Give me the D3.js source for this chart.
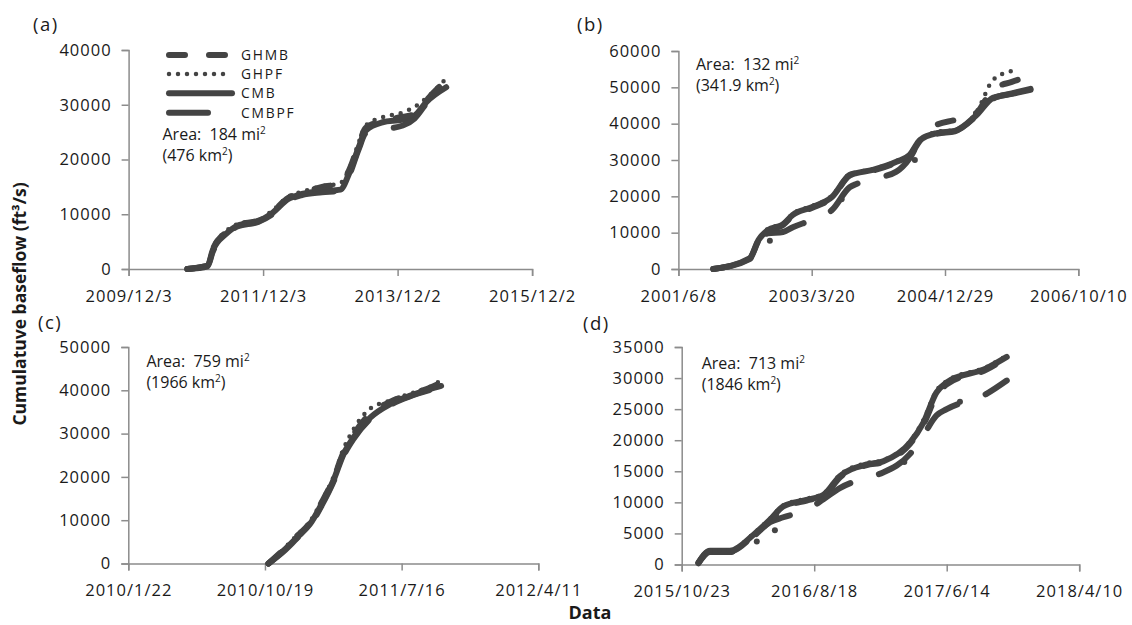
<!DOCTYPE html>
<html>
<head>
<meta charset="utf-8">
<script src="https://cdn.jsdelivr.net/npm/d3@7"></script>
<style>
  body { margin: 0; background: #fff; }
</style>
</head>
<body>
<div id="chart"></div>
<script>
// ---------------- data ----------------
var seriesNames = ["CMB", "CMBPF", "GHMB", "GHPF"];
var legendNames = ["GHMB", "GHPF", "CMB", "CMBPF"];

// (a)
var aTicks = ["2009/12/3", "2011/12/3", "2013/12/2", "2015/12/2"];
var aYTicks = [0, 10000, 20000, 30000, 40000];
var aDates = ["2010-10-18", "2011-02-05", "2011-03-04", "2011-05-16", "2011-07-19", "2011-11-06", "2012-01-17",
  "2012-04-18", "2012-06-30", "2012-10-18", "2013-01-26", "2013-03-13", "2013-05-06", "2013-06-12",
  "2013-09-11", "2013-12-30", "2014-03-04", "2014-05-07", "2014-08-23"];
var aCMB   = [0, 600, 3350, 6400, 7950, 8700, 10100, 12800, 13700, 14200, 14500, 17400, 22300, 25300, 26800, 27300, 28000, 30500, 33200];
var aCMBPF = [0, 500, 3100, 6200, 7800, 8600, 9900, 12600, 13500, 14000, 14300, 17000, 22000, 24800, 25500, 26200, 27500, 30200, 33000];
var aGHMB  = [0, 700, 3500, 6700, 8100, 8800, 10300, 13000, 13900, 15000, 15600, 18000, 22800, 25800, 27000, 27800, 28300, 30800, 34500];
var aGHPF  = [0, 750, 3700, 6900, 8200, 8900, 10500, 13200, 14100, 15100, 15700, 18200, 23200, 26200, 27700, 28600, 29600, 31200, 34800];

// (b)
var bTicks = ["2001/6/8", "2003/3/20", "2004/12/29", "2006/10/10"];
var bYTicks = [0, 10000, 20000, 30000, 40000, 50000, 60000];
var bDates = ["2001-11-25", "2002-05-21", "2002-07-04", "2002-08-18", "2002-10-31", "2002-12-18", "2003-03-20",
  "2003-06-28", "2003-09-21", "2003-10-24", "2004-01-12", "2004-05-06", "2004-07-10", "2004-08-29",
  "2004-11-19", "2005-02-15", "2005-06-01", "2005-08-20", "2005-11-20", "2006-02-19"];
var bCMB   = [0, 2900, 8000, 10700, 12300, 14900, 17000, 19900, 25900, 26400, 27300, 29500, 31400, 35500, 37400, 38000, 42400, 47100, 48200, 49300];
var bCMBPF = [0, 2700, 7500, 9800, 10200, 11500, 13500, 16300, 22500, 23400, 24800, 26800, 30500, 35200, 37200, 37900, 42200, 46900, 48300, 49600];
var bGHMB  = [0, 2800, 7800, 10500, 12100, 14700, 16800, 19700, 25700, 26200, 27100, 29300, 31200, 35300, 39700, 41000, 43000, 49500, 51500, 53100];
var bGHPF  = [0, 3000, 8200, 11000, 12500, 15200, 17300, 20200, 26100, 26600, 27500, 29700, 31600, 35700, 37700, 38300, 43200, 52000, 54500, null];
var bDots  = [["2002-08-28", 7800], ["2003-08-13", 19200], ["2004-08-04", 30000]];

// (c)
var cTicks = ["2010/1/22", "2010/10/19", "2011/7/16", "2012/4/11"];
var cYTicks = [0, 10000, 20000, 30000, 40000, 50000];
var cDates = ["2010-10-26", "2010-11-24", "2010-12-21", "2011-01-16", "2011-02-08", "2011-03-03", "2011-03-23",
  "2011-04-12", "2011-05-15", "2011-06-23", "2011-08-01", "2011-09-10", "2011-10-02"];
var cCMB   = [0, 2900, 6000, 9100, 13700, 19100, 25200, 29100, 33700, 36800, 38700, 40300, 41000];
var cCMBPF = [0, 2700, 5800, 8800, 13400, 18800, 24800, 28800, 33400, 36600, 38600, 40100, 40800];
var cGHMB  = [0, 3100, 6300, 9400, 14100, 19500, 25600, 29800, 34600, 37300, 39000, 40600, 41800];
var cGHPF  = [0, 3200, 6500, 9700, 14400, 19900, 26400, 31000, 35800, 37600, 39200, 40800, 42300];

// (d)
var dTicks = ["2015/10/23", "2016/8/18", "2017/6/14", "2018/4/10"];
var dYTicks = [0, 5000, 10000, 15000, 20000, 25000, 30000, 35000];
var dDates = ["2015-11-30", "2015-12-26", "2016-02-09", "2016-04-02", "2016-05-10", "2016-06-09", "2016-08-01",
  "2016-09-08", "2016-10-15", "2016-12-15", "2017-01-21", "2017-03-23", "2017-04-22", "2017-05-22",
  "2017-06-14", "2017-09-13", "2017-10-28"];
var dCMB   = [300, 2200, 2200, 4750, 7200, 9350, 10400, 11200, 14200, 16100, 16600, 19600, 22800, 27700, 29300, 31600, 33400];
var dCMBPF = [200, 2000, 2000, 4500, 6800, 7600, 8800, 10500, 12300, 14000, 14800, 17800, 20800, 24000, 25000, 27500, 29600];
var dGHMB  = [300, 2100, 2100, 4600, 7000, 9100, 10300, 11000, 14000, 16000, 16500, 19400, 22500, 27200, 29000, 31400, 33300];
var dGHPF  = [300, 2300, 2300, 4900, 7400, 9500, 10600, 11400, 14400, 16300, 16800, 19800, 23200, 28000, 29500, 31800, 33600];
var dDots  = [["2016-04-10", 3700], ["2016-05-21", 5500], ["2016-09-15", 11000], ["2017-03-10", 16500], ["2017-07-14", 26200]];

var areaMi = ["184", "132", "759", "713"];
var areaKm = ["476", "341.9", "1966", "1846"];

// ---------------- styles ----------------
var font = "'Open Sans', 'Liberation Sans', sans-serif";
var lineColor = "#444444";
var axisColor = "#8c8c8c";
var textColor = "#1a1a1a";

var seriesStyle = {
  GHMB:  {dash: "16,24", width: 6, cap: "round"},
  GHPF:  {dash: "0,9",   width: 4.5, cap: "round"},
  CMB:   {dash: null,    width: 6, cap: "round"},
  CMBPF: {dash: "39,30", width: 6, cap: "round"}
};

var parseDate = d3.timeParse("%Y-%m-%d");
var parseTick = d3.timeParse("%Y/%m/%d");
var fmtTick = d3.timeFormat("%Y/%-m/%-d");

var svg = d3.select("#chart")
  .append("svg")
    .attr("width", 1132)
    .attr("height", 625)
    .style("background", "#fff");

function sup(textSel, base, after) {
  textSel.append("tspan").text(base);
  textSel.append("tspan").attr("dy", -6.5).style("font-size", "10px").text("2");
  if (after) textSel.append("tspan").attr("dy", 6.5).text(after);
}

function drawPanel(p) {
  var tickDates = p.ticks.map(parseTick);
  var x = d3.scaleTime()
    .domain([tickDates[0], tickDates[tickDates.length - 1]])
    .range([p.left, p.right]);
  var y = d3.scaleLinear()
    .domain([0, p.yTicks[p.yTicks.length - 1]])
    .range([p.bottom, p.top]);

  // axes
  var gx = svg.append("g")
    .attr("transform", "translate(0," + p.bottom + ")")
    .call(d3.axisBottom(x).tickValues(tickDates).tickFormat(fmtTick).tickSize(7).tickPadding(14));
  var gy = svg.append("g")
    .attr("transform", "translate(" + p.left + ",0)")
    .call(d3.axisLeft(y).tickValues(p.yTicks).tickFormat(d3.format("d")).tickSize(7).tickPadding(10));

  [gx, gy].forEach(function(g) {
    g.select(".domain").attr("stroke", axisColor).attr("stroke-width", 1.5);
    g.selectAll(".tick line").attr("stroke", axisColor).attr("stroke-width", 1.5);
    g.selectAll(".tick text")
      .attr("fill", textColor)
      .style("font-family", font)
      .style("font-size", "16.5px")
      .style("letter-spacing", "1px");
  });

  // lines
  var line = d3.line()
    .defined(function(d) { return d.v != null; })
    .x(function(d) { return x(d.date); })
    .y(function(d) { return y(d.v); })
    .curve(d3.curveMonotoneX);

  seriesNames.forEach(function(name) {
    var pts = p.dates.map(function(dd, i) { return {date: parseDate(dd), v: p.values[name][i]}; });
    var st = seriesStyle[name];
    svg.append("path")
      .datum(pts)
      .attr("d", line)
      .attr("fill", "none")
      .attr("stroke", lineColor)
      .attr("stroke-width", st.width)
      .attr("stroke-dasharray", st.dash)
      .attr("stroke-linecap", st.cap)
      .attr("stroke-linejoin", "round");
  });

  if (p.dots) {
    svg.append("g").selectAll("circle")
      .data(p.dots)
      .enter()
      .append("circle")
        .attr("cx", function(d) { return x(parseDate(d[0])); })
        .attr("cy", function(d) { return y(d[1]); })
        .attr("r", 3)
        .attr("fill", lineColor);
  }

  // panel letter
  svg.append("text")
    .attr("x", p.labelX)
    .attr("y", p.labelY)
    .attr("fill", textColor)
    .style("font-family", font)
    .style("font-size", "18.5px")
    .style("letter-spacing", "1.5px")
    .text(p.label);

  // area note
  var t1 = svg.append("text")
    .attr("x", p.areaX).attr("y", p.areaY)
    .attr("fill", textColor)
    .style("font-family", font).style("font-size", "16px")
    .style("white-space", "pre");
  sup(t1, "Area:  " + p.mi + " mi");
  var t2 = svg.append("text")
    .attr("x", p.areaX).attr("y", p.areaY + 21)
    .attr("fill", textColor)
    .style("font-family", font).style("font-size", "16px");
  sup(t2, "(" + p.km + " km", ")");
}

drawPanel({label: "(a)", labelX: 33, labelY: 31,
  left: 128.6, right: 532.1, top: 50, bottom: 269,
  ticks: aTicks, yTicks: aYTicks, dates: aDates,
  values: {CMB: aCMB, CMBPF: aCMBPF, GHMB: aGHMB, GHPF: aGHPF},
  areaX: 162.5, areaY: 140, mi: areaMi[0], km: areaKm[0]});

drawPanel({label: "(b)", labelX: 577, labelY: 31,
  left: 678.4, right: 1078.3, top: 51, bottom: 269,
  ticks: bTicks, yTicks: bYTicks, dates: bDates,
  values: {CMB: bCMB, CMBPF: bCMBPF, GHMB: bGHMB, GHPF: bGHPF}, dots: bDots,
  areaX: 696, areaY: 70, mi: areaMi[1], km: areaKm[1]});

drawPanel({label: "(c)", labelX: 38, labelY: 329,
  left: 128.3, right: 538.3, top: 347, bottom: 563.5,
  ticks: cTicks, yTicks: cYTicks, dates: cDates,
  values: {CMB: cCMB, CMBPF: cCMBPF, GHMB: cGHMB, GHPF: cGHPF},
  areaX: 146.4, areaY: 367, mi: areaMi[2], km: areaKm[2]});

drawPanel({label: "(d)", labelX: 583, labelY: 330,
  left: 681.7, right: 1079.2, top: 347, bottom: 564.5,
  ticks: dTicks, yTicks: dYTicks, dates: dDates,
  values: {CMB: dCMB, CMBPF: dCMBPF, GHMB: dGHMB, GHPF: dGHPF}, dots: dDots,
  areaX: 701.7, areaY: 369, mi: areaMi[3], km: areaKm[3]});

// legend (panel a)
var legendRows = [55, 74, 93.3, 112.7];
var legendEnd = {GHMB: 229, GHPF: 229, CMB: 232, CMBPF: 232};
legendNames.forEach(function(name, i) {
  var st = seriesStyle[name];
  svg.append("line")
    .attr("x1", 169).attr("x2", legendEnd[name])
    .attr("y1", legendRows[i]).attr("y2", legendRows[i])
    .attr("stroke", lineColor)
    .attr("stroke-width", name == "GHPF" ? 4.5 : 6)
    .attr("stroke-dasharray", st.dash)
    .attr("stroke-linecap", st.cap);
  svg.append("text")
    .attr("x", 241).attr("y", legendRows[i])
    .attr("dy", "0.36em")
    .attr("fill", textColor)
    .style("font-family", font)
    .style("font-size", "13.8px")
    .style("letter-spacing", "1.8px")
    .text(name);
});

// axis titles
svg.append("text")
  .attr("transform", "translate(26,304) rotate(-90)")
  .attr("text-anchor", "middle")
  .attr("fill", textColor)
  .style("font-family", font)
  .style("font-size", "17.5px")
  .style("font-weight", "bold")
  .text("Cumulatuve baseflow (ft\u00b3/s)");

svg.append("text")
  .attr("x", 590).attr("y", 619)
  .attr("text-anchor", "middle")
  .attr("fill", textColor)
  .style("font-family", font)
  .style("font-size", "18px")
  .style("font-weight", "bold")
  .text("Data");
</script>
</body>
</html>
